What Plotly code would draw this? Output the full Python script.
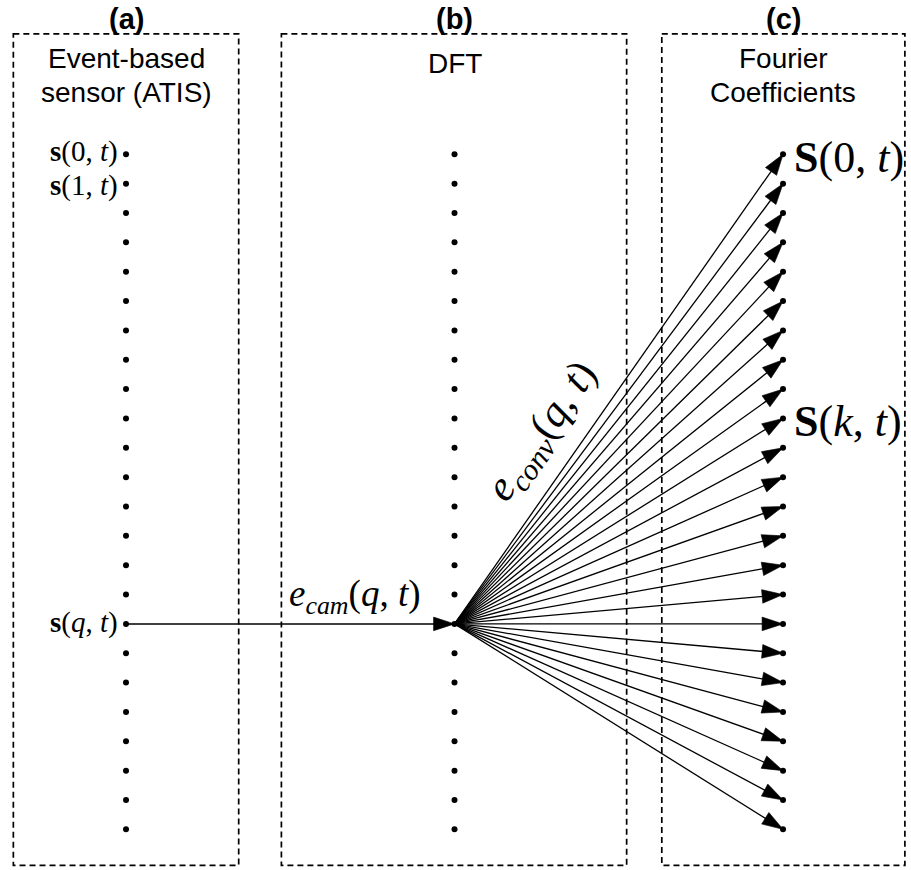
import plotly.graph_objects as go

# ---- data -------------------------------------------------------------
N_ROWS = 24          # sensor pixels / Fourier coefficients per column
Q_ROW = 16           # pixel that fires the event s(q, t)
K_ROW = 9            # highlighted coefficient S(k, t)
STAGE_X = [0, 1, 2]  # (a) sensor, (b) DFT, (c) coefficients
STAGE_TITLES = ["(a)", "(b)", "(c)"]
STAGE_NAMES = [["Event-based", "sensor (ATIS)"], ["DFT"], ["Fourier", "Coefficients"]]
SENSOR_LABELS = {
    0: "<b>s</b>(0, <i>t</i>)",
    1: "<b>s</b>(1, <i>t</i>)",
    Q_ROW: "<b>s</b>(<i>q</i>, <i>t</i>)",
}
COEFF_LABELS = {
    0: "<b>S</b>(0, <i>t</i>)",
    K_ROW: "<b>S</b>(<i>k</i>, <i>t</i>)",
}
CAM_LABEL = "<i>e</i><sub><i>cam</i></sub>(<i>q</i>, <i>t</i>)"
CONV_LABEL = "<i>e</i><sub><i>conv</i></sub>(<i>q</i>, <i>t</i>)"

rows = list(range(N_ROWS))

SANS = "Liberation Sans, Arial, sans-serif"
SERIF = "Liberation Serif, Times New Roman, serif"
INK = "black"

fig = go.Figure()

# event arrow from the sensor pixel into the DFT node
arrow_marker = dict(symbol="arrow", angleref="previous", size=[0, 22],
                    color=INK, opacity=1, line=dict(width=0.6, color=INK))
fig.add_trace(go.Scatter(
    x=[STAGE_X[0], STAGE_X[1]], y=[Q_ROW, Q_ROW], mode="lines+markers",
    line=dict(color=INK, width=1.5), marker=arrow_marker, hoverinfo="skip"))

# fan of convolution events to every coefficient
for r in rows:
    fig.add_trace(go.Scatter(
        x=[STAGE_X[1], STAGE_X[2]], y=[Q_ROW, r], mode="lines+markers",
        line=dict(color=INK, width=1.3), marker=arrow_marker, hoverinfo="skip"))

# node dots of each column
for sx in STAGE_X:
    fig.add_trace(go.Scatter(
        x=[sx] * N_ROWS, y=rows, mode="markers",
        marker=dict(symbol="circle", size=6, color=INK, line=dict(width=0)),
        hoverinfo="skip"))

# dashed stage boxes
BOX_TOP, BOX_BOTTOM = -4.10, 24.23
boxes = [(-0.343, 0.343), (0.473, 1.524), (1.631, 2.371)]
for x0, x1 in boxes:
    fig.add_shape(type="rect", xref="x", yref="y", x0=x0, x1=x1,
                  y0=BOX_TOP, y1=BOX_BOTTOM,
                  line=dict(color=INK, width=1.7, dash="6px,4px"),
                  fillcolor="rgba(0,0,0,0)", layer="below")

annotations = []
for sx, title, names in zip(STAGE_X, STAGE_TITLES, STAGE_NAMES):
    annotations.append(dict(x=sx, y=-4.62, text=f"<b>{title}</b>",
                            font=dict(family=SANS, size=29, color=INK)))
    first_y = -3.25 if len(names) > 1 else -3.1
    for i, name in enumerate(names):
        annotations.append(dict(x=sx, y=first_y + i * 1.15, text=name,
                                font=dict(family=SANS, size=28, color=INK)))

# small vertical nudges keep the two stacked top labels apart
sensor_nudge = {0: 3, 1: -2}
for r, txt in SENSOR_LABELS.items():
    annotations.append(dict(x=STAGE_X[0], y=r, text=txt, xanchor="right",
                            xshift=-6, yshift=sensor_nudge.get(r, 1),
                            font=dict(family=SERIF, size=29, color=INK)))

for r, txt in COEFF_LABELS.items():
    annotations.append(dict(x=STAGE_X[2], y=r, text=txt, xanchor="left",
                            xshift=9, yshift=-3,
                            font=dict(family=SERIF, size=44, color=INK)))

annotations.append(dict(x=0.697, y=Q_ROW, yshift=27, text=CAM_LABEL,
                        font=dict(family=SERIF, size=37, color=INK)))
annotations.append(dict(x=1.27, y=9.45, text=CONV_LABEL, textangle=-55,
                        font=dict(family=SERIF, size=43, color=INK)))

for a in annotations:
    a.update(xref="x", yref="y", showarrow=False)
    a.setdefault("xanchor", "center")
    a.setdefault("yanchor", "middle")

fig.update_layout(
    width=911, height=870, autosize=False,
    margin=dict(l=0, r=0, t=0, b=0, pad=0),
    paper_bgcolor="white", plot_bgcolor="white",
    showlegend=False, annotations=annotations,
    xaxis=dict(range=[-0.3836, 2.3896], visible=False, fixedrange=True),
    yaxis=dict(range=[24.385, -5.257], visible=False, fixedrange=True),
)

fig.write_html("out.html")
